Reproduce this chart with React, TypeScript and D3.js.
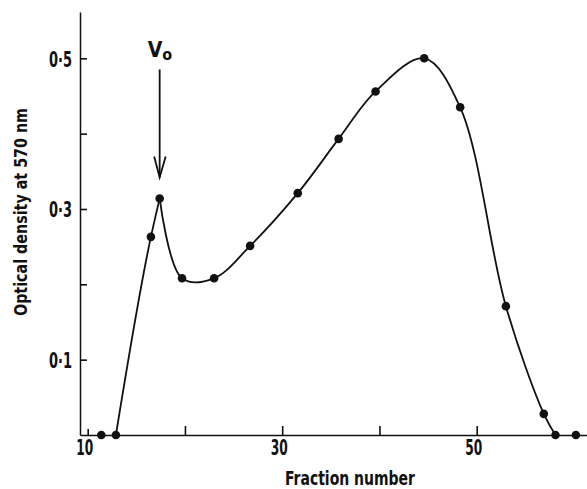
import React, { useEffect, useRef } from "react";
import * as d3 from "d3";

// fraction number vs optical density at 570 nm
const fraction = [11.4, 12.9, 16.5, 17.4, 19.7, 23.0, 26.7, 31.6, 35.8, 39.6, 44.6, 48.3, 53.0, 56.9, 58.1, 60.2];
const density = [0, 0, 0.263, 0.314, 0.208, 0.208, 0.251, 0.321, 0.393, 0.456, 0.5, 0.435, 0.171, 0.028, 0, 0];

const xTicks = [10, 20, 30, 40, 50];
const xTickLabels = ["10", "", "30", "", "50"];
const yTicks = [0.1, 0.2, 0.3, 0.4, 0.5];
const yTickLabels = ["0·1", "", "0·3", "", "0·5"];

const peakIndex = 3;
const width = 587;
const height = 489;
const font = "'DejaVu Sans Condensed', 'Liberation Sans Narrow', 'Liberation Sans', sans-serif";

const App = () => {
  const svgRef = useRef<SVGSVGElement>(null);

  useEffect(() => {
    const svg = d3.select(svgRef.current);
    svg.selectAll("*").remove();

    const axisX = 80;
    const axisY = 435;

    const x = d3.scaleLinear().domain([10, 50]).range([87.7, 476.7]);
    const y = d3.scaleLinear().domain([0, 0.5]).range([axisY, 58.3]);

    x.domain([x.invert(axisX), x.invert(width)]).range([axisX, width]);
    y.domain([0, y.invert(12)]).range([axisY, 12]);

    // x axis, ticks pointing up
    const gx = svg
      .append("g")
      .attr("transform", `translate(0,${axisY})`)
      .call(
        d3
          .axisBottom(x)
          .tickValues(xTicks)
          .tickSizeInner(-9)
          .tickSizeOuter(0)
          .tickPadding(0)
          .tickFormat((d, i) => xTickLabels[i])
      );
    gx.select(".domain").attr("stroke", "#111").attr("stroke-width", 1.5);
    gx.selectAll(".tick line")
      .attr("stroke", "#111")
      .attr("stroke-width", 1.6)
      .attr("y2", (d) => (d === 10 ? -6 : -9));
    gx.selectAll(".tick text")
      .attr("y", 20)
      .attr("dy", 0)
      .attr("dx", -3.5)
      .attr("font-family", font)
      .attr("font-size", 21)
      .attr("font-weight", 600)
      .attr("fill", "#111")
      .attr("textLength", 17)
      .attr("lengthAdjust", "spacingAndGlyphs");

    // y axis, ticks pointing right
    const gy = svg
      .append("g")
      .attr("transform", `translate(${axisX},0)`)
      .call(
        d3
          .axisLeft(y)
          .tickValues(yTicks)
          .tickSizeInner(-7)
          .tickSizeOuter(0)
          .tickPadding(8)
          .tickFormat((d, i) => yTickLabels[i])
      );
    gy.select(".domain").attr("stroke", "#111").attr("stroke-width", 1.5);
    gy.selectAll(".tick line").attr("stroke", "#111").attr("stroke-width", 1.6);
    gy.selectAll(".tick text")
      .attr("x", -8)
      .attr("dy", 8)
      .attr("font-family", font)
      .attr("font-size", 21)
      .attr("font-weight", 600)
      .attr("fill", "#111")
      .attr("textLength", 23)
      .attr("lengthAdjust", "spacingAndGlyphs");

    const pts = fraction.map((f, i) => [f, density[i]] as [number, number]);

    // rising limb up to the void peak
    const rise = d3
      .line<[number, number]>()
      .x((d) => x(d[0]))
      .y((d) => y(d[1]))
      .curve(d3.curveMonotoneX);

    // main elution curve after the peak
    const fall = d3
      .line<[number, number]>()
      .x((d) => x(d[0]))
      .y((d) => y(d[1]))
      .curve(d3.curveCatmullRom.alpha(0.5));

    svg
      .append("path")
      .attr("d", rise(pts.slice(1, peakIndex + 1)))
      .attr("fill", "none")
      .attr("stroke", "#111")
      .attr("stroke-width", 1.8);

    svg
      .append("path")
      .attr("d", fall(pts.slice(peakIndex, 15)))
      .attr("fill", "none")
      .attr("stroke", "#111")
      .attr("stroke-width", 1.8);

    svg
      .selectAll("circle.pt")
      .data(pts)
      .enter()
      .append("circle")
      .attr("class", "pt")
      .attr("cx", (d) => x(d[0]))
      .attr("cy", (d) => y(d[1]))
      .attr("r", 4.3)
      .attr("fill", "#111");

    // V0 arrow
    const px = x(fraction[peakIndex]);
    const py = y(density[peakIndex]);
    svg
      .append("line")
      .attr("x1", px)
      .attr("x2", px)
      .attr("y1", py - 129)
      .attr("y2", py - 21)
      .attr("stroke", "#111")
      .attr("stroke-width", 1.8);
    svg
      .append("path")
      .attr("d", `M${px - 5.5},${py - 42}L${px},${py - 21}L${px + 6},${py - 42}`)
      .attr("fill", "none")
      .attr("stroke", "#111")
      .attr("stroke-width", 1.8);

    const vo = svg
      .append("text")
      .attr("x", px - 12)
      .attr("y", py - 141)
      .attr("font-family", font)
      .attr("font-size", 21)
      .attr("font-weight", 600)
      .attr("fill", "#111");
    vo.append("tspan").text("V");
    vo.append("tspan").attr("dy", 3).attr("font-size", 16).text("o");

    // axis titles
    svg
      .append("text")
      .attr("x", 350)
      .attr("y", 485)
      .attr("text-anchor", "middle")
      .attr("font-family", font)
      .attr("font-size", 20)
      .attr("font-weight", 600)
      .attr("fill", "#111")
      .attr("textLength", 130)
      .attr("lengthAdjust", "spacingAndGlyphs")
      .text("Fraction number");

    svg
      .append("text")
      .attr("transform", "translate(27,212) rotate(-90)")
      .attr("text-anchor", "middle")
      .attr("font-family", font)
      .attr("font-size", 18)
      .attr("font-weight", 600)
      .attr("fill", "#111")
      .attr("textLength", 208)
      .attr("lengthAdjust", "spacingAndGlyphs")
      .text("Optical density at 570 nm");
  }, []);

  return (
    <div style={{ position: "absolute", left: 0, top: 0, background: "#fff" }}>
      <svg ref={svgRef} width={width} height={height} style={{ display: "block" }}></svg>
    </div>
  );
};

export default App;
